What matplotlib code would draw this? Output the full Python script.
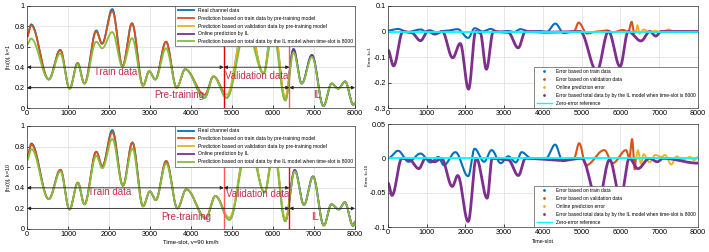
import numpy as np
import matplotlib
matplotlib.use("Agg")
import matplotlib.pyplot as plt
from matplotlib.lines import Line2D

plt.rcParams['font.family'] = ['Liberation Sans', 'DejaVu Sans']
plt.rcParams['mathtext.fontset'] = 'custom'
plt.rcParams['mathtext.rm'] = 'Liberation Sans'

# ---- channel amplitude, k=1 (anchor points = peaks / troughs)
t_k1 = [0, 100, 530, 810, 1040, 1235, 1400, 1690, 1830, 2080, 2330, 2560, 2830, 2980,
        3130, 3390, 3650, 3860, 4330, 4550, 4870, 5350, 5770, 6000, 6300, 6500, 6700,
        6950, 7230, 7430, 7590, 7760, 7960, 8000]
real_k1 = [0.70, 0.82, 0.28, 0.57, 0.19, 0.44, 0.24, 0.76, 0.63, 0.97, 0.41, 0.83, 0.22, 0.36,
           0.28, 0.65, 0.20, 0.38, 0.10, 0.31, 0.10, 0.93, 0.34, 0.88, 0.075, 0.58, 0.24,
           0.52, 0.02, 0.24, 0.19, 0.26, 0.03, 0.05]
pred_k1 = [0.70, 0.81, 0.28, 0.57, 0.19, 0.44, 0.24, 0.75, 0.63, 0.95, 0.41, 0.83, 0.22, 0.36,
           0.28, 0.65, 0.20, 0.38, 0.13, 0.31, 0.13, 0.93, 0.34, 0.88, 0.11, 0.575, 0.24,
           0.52, 0.02, 0.24, 0.19, 0.26, 0.03, 0.05]
total_k1 = [0.62, 0.68, 0.28, 0.535, 0.19, 0.43, 0.24, 0.65, 0.585, 0.745, 0.405, 0.685, 0.22, 0.36,
            0.28, 0.585, 0.20, 0.38, 0.10, 0.31, 0.10, 0.775, 0.34, 0.745, 0.075, 0.545, 0.24,
            0.50, 0.02, 0.24, 0.19, 0.26, 0.03, 0.05]

# ---- channel amplitude, k=10
t_k10 = [0, 106, 530, 816, 1036, 1240, 1400, 1690, 1836, 2080, 2340, 2570, 2830, 2995,
         3140, 3395, 3670, 3885, 4360, 4595, 4935, 5400, 5795, 6020, 6300, 6530, 6755,
         6975, 7240, 7425, 7605, 7750, 7955, 8000]
real_k10 = [0.69, 0.83, 0.29, 0.575, 0.19, 0.45, 0.24, 0.75, 0.61, 0.96, 0.42, 0.84, 0.22, 0.365,
            0.28, 0.66, 0.20, 0.385, 0.10, 0.32, 0.09, 0.90, 0.355, 0.80, 0.075, 0.575, 0.235,
            0.51, 0.035, 0.24, 0.19, 0.26, 0.03, 0.07]
pred_k10 = [0.69, 0.82, 0.29, 0.575, 0.19, 0.45, 0.24, 0.75, 0.61, 0.94, 0.42, 0.84, 0.22, 0.365,
            0.28, 0.66, 0.20, 0.385, 0.11, 0.32, 0.11, 0.90, 0.355, 0.80, 0.10, 0.57, 0.235,
            0.51, 0.035, 0.24, 0.19, 0.26, 0.03, 0.07]
total_k10 = [0.665, 0.776, 0.29, 0.56, 0.19, 0.445, 0.24, 0.71, 0.59, 0.875, 0.42, 0.78, 0.22, 0.365,
             0.28, 0.635, 0.20, 0.385, 0.10, 0.32, 0.09, 0.835, 0.355, 0.74, 0.075, 0.56, 0.235,
             0.505, 0.035, 0.24, 0.19, 0.26, 0.03, 0.065]

# ---- errors, k=1
et_train_k1 = [0, 257, 500, 855, 960, 1070, 1250, 1450, 1800, 2070, 2240, 2440, 2650, 2850,
               3100, 3250, 3420, 3650, 3900, 4100, 4320, 4535, 4800]
ev_train_k1 = [0.004, 0.010, -0.002, 0.008, 0.0, 0.005, -0.003, 0.002, 0.009, -0.025, 0.013, 0.0,
               0.010, -0.002, 0.002, -0.002, 0.009, 0.0, 0.002, -0.001, 0.031, -0.006, 0.0]
et_val_k1 = [4800, 4920, 5135, 5400, 5650, 5800, 6075, 6200, 6290, 6350, 6400]
ev_val_k1 = [0.0, 0.035, -0.008, 0.0, 0.004, -0.003, 0.006, -0.002, 0.038, -0.006, 0.0]
et_online_k1 = [6400, 6440, 6490, 6600, 6750, 6900, 7050, 7250, 7400, 7600, 7800, 8000]
ev_online_k1 = [0.0, 0.025, -0.008, 0.008, -0.002, 0.003, -0.003, 0.008, -0.003, 0.002, -0.002, 0.0]
et_total_k1 = [0, 145, 385, 600, 840, 1030, 1215, 1400, 1670, 1865, 2080, 2265, 2380, 2540,
               2720, 3100, 3360, 3550, 4000, 4960, 5390, 5690, 5990, 6200, 6530, 6760, 6910,
               7050, 8000]
ev_total_k1 = [-0.073, -0.135, 0.0, -0.004, -0.036, 0.0, -0.010, 0.0, -0.103, -0.047, -0.226, 0.0,
               -0.005, -0.148, 0.0, -0.003, -0.064, 0.0, -0.003, 0.0, -0.155, 0.0, -0.137, 0.0,
               -0.037, 0.0, -0.018, 0.0, 0.0]

# ---- errors, k=10
et_train_k10 = [0, 260, 535, 840, 1100, 1300, 1440, 1740, 2070, 2235, 2480, 2675, 2910, 3105,
                3300, 3450, 3700, 4075, 4315, 4505, 4800]
ev_train_k10 = [0.0, 0.011, -0.005, 0.007, -0.006, 0.002, -0.010, 0.009, -0.026, 0.014, -0.005,
                0.012, -0.007, 0.003, -0.006, 0.009, 0.0, 0.0, 0.020, -0.004, 0.0]
et_val_k10 = [4800, 4935, 5110, 5585, 5800, 6145, 6230, 6300, 6370, 6400]
ev_val_k10 = [0.0, 0.022, -0.010, 0.012, -0.007, 0.012, 0.0, 0.028, -0.016, 0.0]
et_online_k10 = [6400, 6450, 6530, 6600, 6750, 6900, 7050, 7150, 7310, 7450, 7600, 7800, 7900, 8000]
ev_online_k10 = [0.0, 0.012, -0.008, 0.006, -0.006, 0.005, 0.002, 0.005, -0.009, 0.003, -0.002,
                 0.002, -0.003, 0.002]
et_total_k10 = [0, 105, 360, 550, 795, 970, 1200, 1380, 1660, 1800, 2070, 2280, 2560, 2690,
                3100, 3365, 3550, 4500, 5000, 5420, 5720, 6000, 6230, 6450, 6750, 6950, 7100, 8000]
ev_total_k10 = [-0.036, -0.054, 0.0, -0.002, -0.015, 0.0, -0.005, 0.0, -0.041, -0.025, -0.092, 0.0,
                -0.058, 0.0, -0.002, -0.025, 0.0, -0.003, 0.0, -0.065, -0.002, -0.058, 0.0,
                -0.015, 0.0, -0.005, 0.0, -0.007]

C_BLUE, C_ORANGE, C_YELLOW, C_PURPLE, C_GREEN = '#0072BD', '#D95319', '#EDB120', '#7E2F8E', '#86BE3C'
TXT = '#C0304F'


def smooth(tk, yk, n=4001):
    # cosine easing between the read anchor points
    tk = np.asarray(tk, float); yk = np.asarray(yk, float)
    t = np.linspace(tk[0], tk[-1], n)
    i = np.clip(np.searchsorted(tk, t, side='right') - 1, 0, len(tk) - 2)
    u = (t - tk[i]) / (tk[i + 1] - tk[i])
    w = (1 - np.cos(np.pi * u)) / 2
    return t, yk[i] + (yk[i + 1] - yk[i]) * w


def style(ax):
    ax.grid(True, color='#dcdcdc', lw=0.5)
    ax.set_axisbelow(True)
    ax.tick_params(direction='in', labelsize=5.2, length=2, width=0.5, pad=1.5)
    for s in ax.spines.values():
        s.set_linewidth(0.5)
        s.set_color('#333333')


def channel_panel(ax, tk, real, pred, total, k, lines, labels, xlabel):
    t, yr = smooth(tk, real)
    _, yp = smooth(tk, pred)
    _, yg = smooth(tk, total)
    ax.plot(t, yr, color=C_BLUE, lw=1.3, label='Real channel data')
    m = t <= 4800
    ax.plot(t[m], yp[m], color=C_ORANGE, lw=1.3, label='Prediction based on train data by pre-training model')
    m = (t >= 4800) & (t <= 6400)
    ax.plot(t[m], yp[m], color=C_YELLOW, lw=1.3, label='Prediction based on validation data by pre-training model')
    m = t >= 6400
    ax.plot(t[m], yp[m], color=C_PURPLE, lw=1.3, label='Online prediction by IL')
    ax.plot(t, yg, color=C_GREEN, lw=1.3, label='Prediction based on total data by the IL model when time-slot is 8000')
    ax.axvline(4800, color=lines[0], lw=1.0)
    ax.axvline(6400, color=lines[1], lw=1.0)
    ap = dict(arrowstyle='<|-|>', color='#222222', lw=0.6, mutation_scale=5, shrinkA=0, shrinkB=0)
    for x0, x1, y in [(0, 4800, 0.4), (4800, 6400, 0.4), (0, 6400, 0.2), (6400, 8000, 0.2)]:
        ax.annotate('', xy=(x1, y), xytext=(x0, y), arrowprops=ap)
    for s, (x, y) in zip(['Train data', 'Validation data', 'Pre-training', 'IL'], labels):
        ax.text(x, y, s, color=TXT, fontsize=7, ha='center', va='center')
    ax.set_xlim(0, 8000)
    ax.set_ylim(0, 1)
    ax.set_xticks(np.arange(0, 8001, 1000))
    ax.set_yticks([0, 0.2, 0.4, 0.6, 0.8, 1])
    ax.set_yticklabels(['0', '0.2', '0.4', '0.6', '0.8', '1'])
    ax.set_ylabel('|h$_1$(t)|, k=%d' % k, fontsize=3.8, labelpad=1)
    if xlabel:
        ax.set_xlabel(xlabel, fontsize=4.3, labelpad=1)
    style(ax)
    leg = ax.legend(loc='upper right', fontsize=3.6, borderaxespad=0, fancybox=False,
                    handlelength=3.2, labelspacing=0.55, borderpad=0.45, framealpha=1)
    leg.get_frame().set_edgecolor('#555555')
    leg.get_frame().set_linewidth(0.5)


def error_panel(ax, sets, k, ylim, yticks, xlabel):
    cols = [C_BLUE, C_ORANGE, C_YELLOW, C_PURPLE]
    lws = [1.5, 1.5, 1.3, 2.0]
    for (tk, vk), c, lw in zip(sets, cols, lws):
        t, v = smooth(tk, vk)
        ax.plot(t, v, color=c, lw=lw)
    ax.axhline(0, color='#00FFFF', lw=1.3)
    ax.set_xlim(0, 8000)
    ax.set_ylim(*ylim)
    ax.set_xticks(np.arange(0, 8001, 1000))
    ax.set_yticks(yticks)
    ax.set_yticklabels([('%g' % v) for v in yticks])
    ax.set_ylabel('Error, k=%d' % k, fontsize=3.2, labelpad=1)
    if xlabel:
        ax.set_xlabel(xlabel, fontsize=3.9, labelpad=2)
    style(ax)
    names = ['Error based on train data', 'Error based on validation data', 'Online prediction error',
             'Error based total data by by the IL model when time-slot is 8000']
    handles = [Line2D([], [], ls='none', marker='.', ms=2, color=c) for c in cols]
    handles.append(Line2D([], [], color='#00FFFF', lw=1.0))
    leg = ax.legend(handles, names + ['Zero-error reference'], loc='lower right', fontsize=3.5,
                    borderaxespad=0, fancybox=False, handlelength=3.2, labelspacing=0.6,
                    borderpad=0.45, framealpha=1)
    leg.get_frame().set_edgecolor('#555555')
    leg.get_frame().set_linewidth(0.5)


fig = plt.figure(figsize=(7.09, 2.52), dpi=100)
ax1 = fig.add_axes([0.0381, 0.5714, 0.4626, 0.4048])
ax2 = fig.add_axes([0.0381, 0.0913, 0.4626, 0.4087])
ax3 = fig.add_axes([0.5472, 0.5714, 0.4372, 0.4048])
ax4 = fig.add_axes([0.5472, 0.0992, 0.4372, 0.4087])

channel_panel(ax1, t_k1, real_k1, pred_k1, total_k1, 1, ['#E00000', '#FF5A5A'],
              [(2150, 0.35), (5600, 0.315), (3720, 0.13), (7080, 0.13)], None)
channel_panel(ax2, t_k10, real_k10, pred_k10, total_k10, 10, ['#FF5A5A', '#FF0000'],
              [(2025, 0.355), (5630, 0.34), (3875, 0.12), (7035, 0.12)], 'Time-slot, v=90 km/h')

error_panel(ax3, [(et_train_k1, ev_train_k1), (et_val_k1, ev_val_k1), (et_online_k1, ev_online_k1),
                  (et_total_k1, ev_total_k1)], 1, (-0.3, 0.1), [-0.3, -0.2, -0.1, 0, 0.1], None)
error_panel(ax4, [(et_train_k10, ev_train_k10), (et_val_k10, ev_val_k10), (et_online_k10, ev_online_k10),
                  (et_total_k10, ev_total_k10)], 10, (-0.1, 0.05), [-0.1, -0.05, 0, 0.05], 'Time-slot')

fig.savefig('out.png', dpi=100)
